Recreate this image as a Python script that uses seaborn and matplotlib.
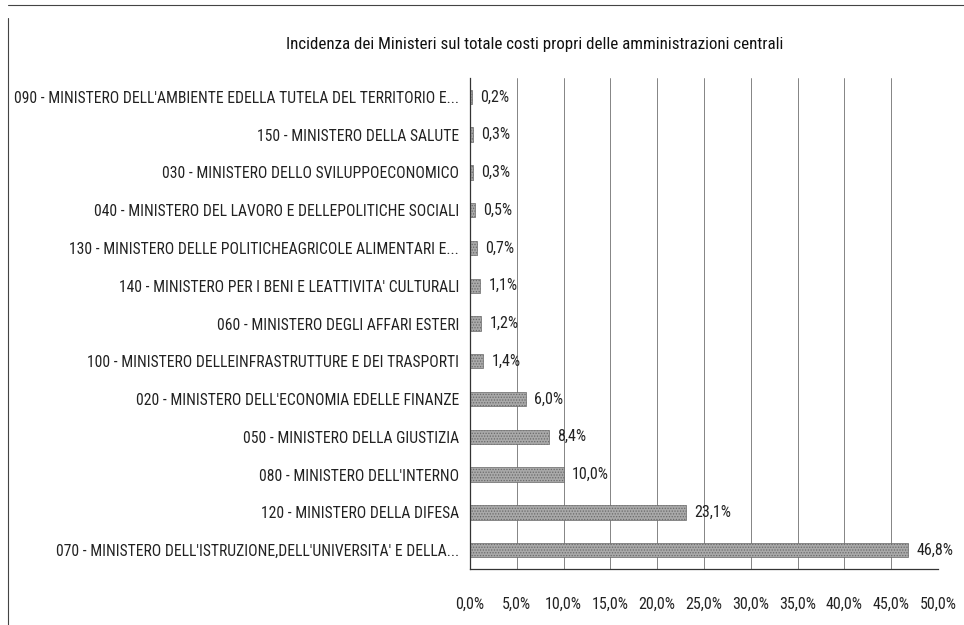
import matplotlib
matplotlib.use("Agg")
import matplotlib.pyplot as plt
import matplotlib.font_manager as fm
import seaborn as sns
import pandas as pd
import numpy as np

ministries = [
    "090 - MINISTERO DELL'AMBIENTE EDELLA TUTELA DEL TERRITORIO E...",
    "150 - MINISTERO DELLA SALUTE",
    "030 - MINISTERO DELLO SVILUPPOECONOMICO",
    "040 - MINISTERO DEL LAVORO E DELLEPOLITICHE SOCIALI",
    "130 - MINISTERO DELLE POLITICHEAGRICOLE ALIMENTARI E...",
    "140 - MINISTERO PER I BENI E LEATTIVITA' CULTURALI",
    "060 - MINISTERO DEGLI AFFARI ESTERI",
    "100 - MINISTERO DELLEINFRASTRUTTURE E DEI TRASPORTI",
    "020 - MINISTERO DELL'ECONOMIA EDELLE FINANZE",
    "050 - MINISTERO DELLA GIUSTIZIA",
    "080 - MINISTERO DELL'INTERNO",
    "120 - MINISTERO DELLA DIFESA",
    "070 - MINISTERO DELL'ISTRUZIONE,DELL'UNIVERSITA' E DELLA...",
]
shares = [0.2, 0.3, 0.3, 0.5, 0.7, 1.1, 1.2, 1.4, 6.0, 8.4, 10.0, 23.1, 46.8]
x_ticks = [0, 5, 10, 15, 20, 25, 30, 35, 40, 45, 50]
title = "Incidenza dei Ministeri sul totale costi propri delle amministrazioni centrali"

sns.set_style("white")

# pick a narrow font if one is installed
def find_narrow():
    prefs = ["liberation sans narrow", "noto sans extracondensed", "noto sans condensed",
             "roboto condensed", "open sans condensed", "dejavu sans condensed",
             "noto sans semicondensed", "open sans semicondensed"]
    entries = fm.fontManager.ttflist
    def ok(f):
        w = f.weight
        return f.style == "normal" and (w in (400, "normal", "regular", "book") or w == 400)
    for p in prefs:
        for f in entries:
            if f.name.lower() == p and ok(f):
                return f.fname
    for f in entries:
        if f.stretch in ("condensed", "extra-condensed", "ultra-condensed", "semi-condensed") and ok(f):
            return f.fname
    for f in entries:
        n = f.name.lower()
        if ("narrow" in n or "condensed" in n) and ok(f):
            return f.fname
    return None

fpath = find_narrow()
def fp(size):
    if fpath:
        return fm.FontProperties(fname=fpath, size=size)
    return fm.FontProperties(family="DejaVu Sans", stretch="condensed", size=size)

df = pd.DataFrame({"Ministero": ministries, "Quota": shares})

fig = plt.figure(figsize=(9.64, 6.25), dpi=100)
ax = fig.add_axes([470 / 964, 1 - 569 / 625, (938 - 470) / 964, (569 - 78) / 625])

plt.rcParams["hatch.color"] = "#555555"
plt.rcParams["hatch.linewidth"] = 0.6
sns.barplot(data=df, y="Ministero", x="Quota", order=ministries, orient="h",
            color="#a9a9a9", width=0.38, ax=ax, saturation=1)
for p in ax.patches:
    p.set_hatch("......")
    p.set_edgecolor("#6a6a6a")
    p.set_linewidth(0.5)

base = 11.0
vals = []
for i, v in enumerate(shares):
    t = ax.annotate(f"{v:.1f}%".replace(".", ","), xy=(v, i), xytext=(6, 0),
                    textcoords="offset points", va="center", ha="left",
                    fontproperties=fp(base), color="#222222")
    vals.append(t)

ax.set_xlim(0, 50)
ax.set_ylim(len(ministries) - 0.5, -0.5)
ax.set_xticks(x_ticks)
ax.set_xticklabels([f"{t:.1f}%".replace(".", ",") for t in x_ticks], color="#222222")
ax.tick_params(axis="x", length=0, pad=20)
ax.tick_params(axis="y", which="major", length=0, pad=8, labelcolor="#222222")
ax.set_yticks(np.arange(-0.5, len(ministries), 1), minor=True)
ax.tick_params(axis="y", which="minor", length=4, color="#444444", direction="out")
ax.set_xlabel("")
ax.set_ylabel("")
ax.grid(axis="x", color="#707070", linewidth=0.6)
ax.set_axisbelow(True)
for s in ["top", "right"]:
    ax.spines[s].set_visible(False)
for s in ["left", "bottom"]:
    ax.spines[s].set_color("#333333")
    ax.spines[s].set_linewidth(0.9)

ttl = fig.text(535 / 964, 1 - 45 / 625, title, ha="center", va="center",
               fontproperties=fp(14.0), color="#111111")

for lab in ax.get_yticklabels() + ax.get_xticklabels():
    lab.set_fontproperties(fp(base))

# fit text sizes to the reference extents
fig.canvas.draw()
r = fig.canvas.get_renderer()
w_lab = ax.get_yticklabels()[0].get_window_extent(r).width
size = max(8.0, base * min(1.3, 443.0 / w_lab))
for lab in ax.get_yticklabels():
    lab.set_fontproperties(fp(size))
w_tick = ax.get_xticklabels()[-1].get_window_extent(r).width
tsize = min(12.0, base * 37.0 / w_tick)
for lab in ax.get_xticklabels():
    lab.set_fontproperties(fp(tsize))
for t in vals:
    t.set_fontproperties(fp(tsize))
w_t = ttl.get_window_extent(r).width
ttl.set_fontproperties(fp(14.0 * min(1.3, 500.0 / w_t)))

# outer frame (scanned border)
fig.add_artist(plt.Line2D([8 / 964, 8 / 964], [0, 1 - 18 / 625], color="#444444", lw=0.8))
fig.add_artist(plt.Line2D([8 / 964, 1], [1 - 5 / 625, 1 - 5 / 625], color="#444444", lw=0.8))

fig.savefig("out.png", dpi=100)
